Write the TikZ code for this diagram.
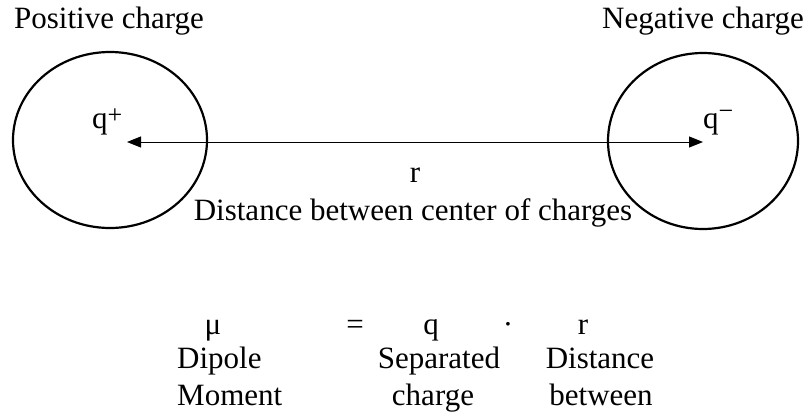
\documentclass[tikz,border=0pt]{standalone}
\usepackage{fontspec}
\setmainfont{Liberation Serif}
\usetikzlibrary{arrows.meta,shapes.geometric}
\newcommand{\supsign}[2]{\raisebox{#1}{\fontsize{26}{26}\selectfont #2}}
\begin{document}
\begin{tikzpicture}[x=1pt,y=-1pt,
  txt/.style={inner sep=0pt,anchor=base,font=\fontsize{31}{37}\selectfont},
  charge/.style={draw,line width=2.2pt,ellipse,inner sep=0pt},
  sep/.style={line width=1pt,{Triangle[length=14pt,width=11pt]}-{Triangle[length=14pt,width=11pt]}}]
\useasboundingbox (0,0) rectangle (808,415);
% titles
\node[txt] (ptitle) at (109,28) {Positive charge};
\node[txt] (ntitle) at (703,28) {Negative charge};
% charges
\node[charge,minimum width=194pt,minimum height=176pt] (pcirc) at (110,140) {};
\node[charge,minimum width=190pt,minimum height=176pt] (ncirc) at (703,141) {};
\node[txt,anchor=base west] (qp) at (92,128) {q\supsign{5pt}{+}};
\node[txt,anchor=base west] (qn) at (703,128) {q\supsign{9pt}{−}};
\coordinate (pend) at (127,142);
\coordinate (nend) at (703,142);
\draw[sep] (pend) -- (nend);
\node[txt] (rlab) at (415,182) {r};
\node[txt] (dist) at (413,220) {Distance between center of charges};
% formula
\node[txt] (mu) at (213,334) {μ};
\node[txt] (eq) at (355,334) {=};
\node[txt] (q) at (431,334) {q};
\node[txt] (dot) at (508,334) {·};
\node[txt] (r) at (583,334) {r};
\node[txt,anchor=base west] (dip) at (177,368) {Dipole};
\node[txt,anchor=base west] (mom) at (177,405) {Moment};
\node[txt] (sepd) at (439,368) {Separated};
\node[txt] (chg) at (433,405) {charge};
\node[txt] (dst) at (600,368) {Distance};
\node[txt] (btw) at (601,405) {between};
\end{tikzpicture}
\end{document}
